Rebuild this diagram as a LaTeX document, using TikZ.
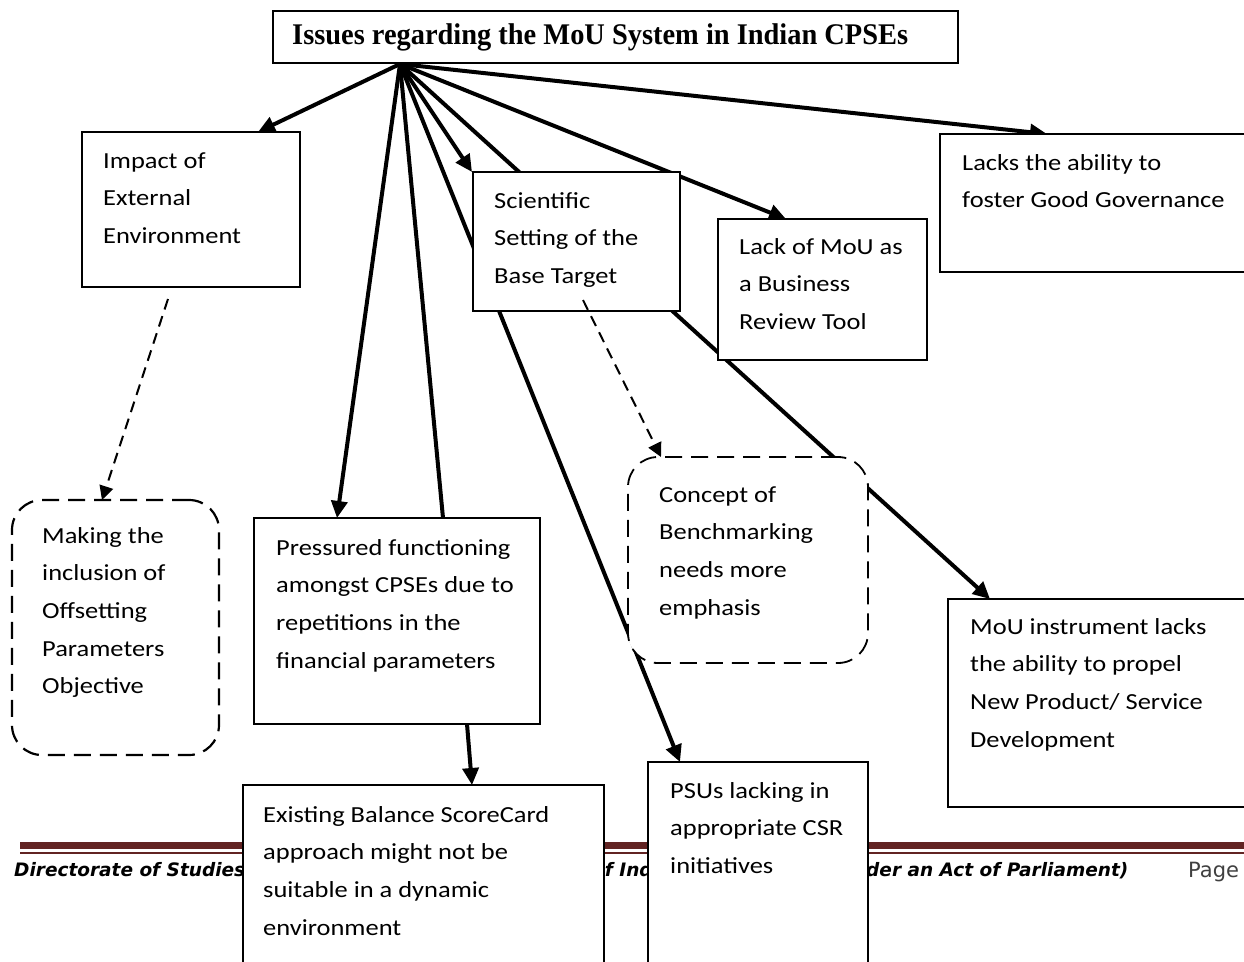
\documentclass[tikz,border=0pt]{standalone}
\usepackage{fontspec}
\usepackage{graphicx}
\usetikzlibrary{arrows.meta,calc}
\setmainfont{Carlito}[FakeStretch=1.15]
\newfontfamily\titlefont{Liberation Serif}
\newfontfamily\footfont{DejaVu Sans}
\definecolor{footred}{RGB}{98,36,35}
\newcommand{\boxlines}[1]{\begin{tabular}[t]{@{}l@{}}#1\end{tabular}}
\tikzset{
  box/.style={draw, line width=2pt, fill=white, inner sep=0pt, outer sep=0pt, anchor=north west},
  rbox/.style={draw, line width=2.2pt, dash pattern=on 17pt off 9pt, rounded corners=30pt, fill=white, inner sep=0pt, outer sep=0pt, anchor=north west},
  txt/.style={anchor=base west, inner sep=0pt, font=\fontsize{23}{37.7}\selectfont},
  foot/.style={anchor=base west, inner sep=0pt, font=\footfont\bfseries\itshape\fontsize{18.5}{22}\selectfont},
  conn/.style={line width=4pt, -{Triangle[length=17pt,width=16pt]}},
  plainconn/.style={line width=4pt},
  dconn/.style={line width=2pt, dash pattern=on 11pt off 7pt, -{Triangle[length=14pt,width=14pt]}}
}
\begin{document}
\begin{tikzpicture}[x=1pt,y=-1pt]
\path[use as bounding box, fill=white] (0,0) rectangle (1244,961);
% footer
\fill[footred] (20,842) rectangle (1244,849);
\fill[footred] (20,851.5) rectangle (1244,853.5);
\node[foot] (f1) at (14,876) {Directorate of Studies};
\node[foot] (f2) at (592,876) {of Ind};
\node[foot] (f3) at (866,876) {der an Act of Parliament)};
\node[anchor=base west, inner sep=0pt, font=\footfont\fontsize{21}{24}\selectfont, text=black!75] (f4) at (1188,877) {Page};
\coordinate (src) at (400,64);
% connectors from the title (drawn under boxes)
\draw[conn] (src) -- (258,132) coordinate (aImpact);
\draw[conn] (src) -- (337,518) coordinate (aPress);
\draw[plainconn] (src) -- (443,518) coordinate (lPress);
\draw[conn] (src) -- (680,762) coordinate (aPsus);
\draw[conn] (src) -- (472,172) coordinate (aSci);
\draw[conn] (src) -- (990,599) coordinate (aMou);
\draw[conn] (src) -- (786,219) coordinate (aLack);
\draw[conn] (src) -- (1047,134) coordinate (aLacks);
% boxes
\node[box, minimum width=685pt, minimum height=52pt] (title) at (273,11) {};
\node[box, minimum width=218pt, minimum height=155pt] (impact) at (82,132) {};
\node[rbox, minimum width=207pt, minimum height=255pt] (making) at (12,500) {};
\node[box, minimum width=286pt, minimum height=206pt] (press) at (254,518) {};
\node[box, minimum width=361pt, minimum height=200pt] (exist) at (243,785) {};
\node[box, minimum width=207pt, minimum height=139pt] (sci) at (473,172) {};
\node[box, minimum width=209pt, minimum height=141pt] (lack) at (718,219) {};
\node[box, minimum width=330pt, minimum height=138pt] (lacks) at (940,134) {};
\node[rbox, line width=1.8pt, minimum width=240pt, minimum height=206pt] (concept) at (628,457) {};
\node[box, minimum width=320pt, minimum height=208pt] (mou) at (948,599) {};
\node[box, minimum width=220pt, minimum height=220pt] (psus) at (648,762) {};
% secondary connectors
\draw[conn] ($(press.south west)+(213,0)$) -- ($(exist.north west)+(229,0)$);
\coordinate (d1) at ($(impact.south west)+(86,12)$);
\draw[dconn] (d1) -- ($(making.north west)+(90,0)$);
\coordinate (d2) at ($(sci.south west)+(110,-11)$);
\draw[dconn] (d2) -- ($(concept.north west)+(33,0)$);
% texts
\node[anchor=base west, inner sep=0pt] (titletext) at (292,44) {\resizebox{616pt}{\height}{\titlefont\bfseries\fontsize{30}{34}\selectfont Issues regarding the MoU System in Indian CPSEs}};
\node[txt] (impactT) at (103,168) {\boxlines{Impact of\\External\\Environment}};
\node[txt] (makingT) at (42,543) {\boxlines{Making the\\inclusion of\\Offsetting\\Parameters\\Objective}};
\node[txt] (pressT) at (276,555) {\boxlines{Pressured functioning\\amongst CPSEs due to\\repetitions in the\\financial parameters}};
\node[txt] (existT) at (263,822) {\boxlines{Existing Balance ScoreCard\\approach might not be\\suitable in a dynamic\\environment}};
\node[txt] (sciT) at (494,208) {\boxlines{Scientific\\Setting of the\\Base Target}};
\node[txt] (lackT) at (739,254) {\boxlines{Lack of MoU as\\a Business\\Review Tool}};
\node[txt] (lacksT) at (962,170) {\boxlines{Lacks the ability to\\foster Good Governance}};
\node[txt] (conceptT) at (659,502) {\boxlines{Concept of\\Benchmarking\\needs more\\emphasis}};
\node[txt] (mouT) at (970,634) {\boxlines{MoU instrument lacks\\the ability to propel\\New Product/ Service\\Development}};
\node[txt] (psusT) at (670,798) {\boxlines{PSUs lacking in\\appropriate CSR\\initiatives}};
\end{tikzpicture}
\end{document}
